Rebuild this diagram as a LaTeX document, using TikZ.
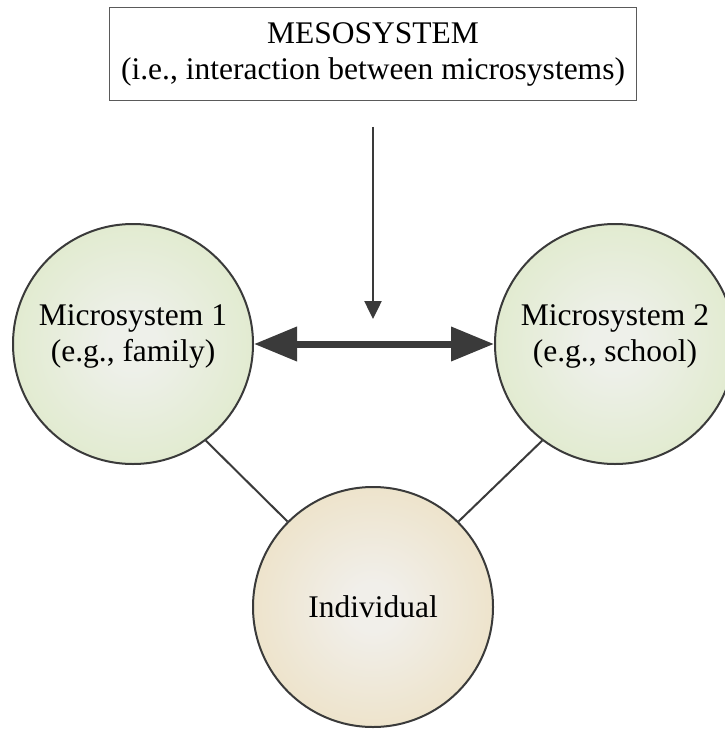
\documentclass[tikz,border=0pt]{standalone}
\usepackage{fontspec}
\setmainfont{Liberation Serif}
\usetikzlibrary{arrows.meta}

\definecolor{ink}{HTML}{3A3A3A}
\definecolor{boxline}{HTML}{5A5A5A}
\definecolor{greenedge}{HTML}{DAE8C0}
\definecolor{greencenter}{HTML}{EEF0EA}
\definecolor{sandedge}{HTML}{EBDCB8}
\definecolor{sandcenter}{HTML}{F1EFEA}

% soft radial glow: light centre fading to the rim colour
\pgfdeclareradialshading{greenglow}{\pgfpoint{0bp}{0bp}}{%
  color(0bp)=(greencenter); color(5bp)=(greencenter); color(38bp)=(greenedge); color(50bp)=(greenedge)}
\pgfdeclareradialshading{sandglow}{\pgfpoint{0bp}{0bp}}{%
  color(0bp)=(sandcenter); color(5bp)=(sandcenter); color(38bp)=(sandedge); color(50bp)=(sandedge)}

\begin{document}
\begin{tikzpicture}[x=1pt,y=-1pt,
  txt/.style={font=\fontsize{31.5}{36}\selectfont, align=center, text=black},
  sysball/.style={circle, draw=ink, line width=2pt, minimum size=240pt, inner sep=0pt},
  microball/.style={sysball, shading=greenglow},
  selfball/.style={sysball, shading=sandglow},
  mesobox/.style={txt, draw=boxline, line width=1.3pt, fill=white,
                  minimum width=527pt, minimum height=93pt, inner sep=0pt},
  conn/.style={draw=ink, line width=2pt},
  thinarrow/.style={draw=ink, line width=2.5pt, -{Triangle[length=18pt,width=17pt]}},
  thickarrow/.style={draw=ink, line width=7pt,
                     {Triangle[length=43pt,width=33pt]}-{Triangle[length=43pt,width=33pt]}}
]
\fill[white] (0,0) rectangle (724,730);
\useasboundingbox (0,0) rectangle (724,730);

% the three systems
\node[microball] (m1) at (133,344) {};
\node[microball] (m2) at (615,344) {};
\node[selfball] (ind) at (373,607) {};

\node[txt] (m1t) at ([yshift=8pt]m1.center) {Microsystem 1\\(e.g., family)};
\node[txt] (m2t) at ([yshift=8pt]m2.center) {Microsystem 2\\(e.g., school)};
\node[txt] (indt) at (ind.center) {Individual};

% mesosystem label
\node[mesobox] (meso) at (373,54) {MESOSYSTEM\\(i.e., interaction between microsystems)};

% links from the individual to each microsystem
\draw[conn] (m1.-53) -- (ind.135);
\draw[conn] (m2.-127) -- (ind.45);

% interaction between the microsystems
\draw[thickarrow] (m1.east) -- (m2.west);

% pointer from the mesosystem label to the interaction
\coordinate (vtop) at (373,127);
\coordinate (vtip) at (373,319);
\draw[thinarrow] (vtop) -- (vtip);
\end{tikzpicture}
\end{document}
